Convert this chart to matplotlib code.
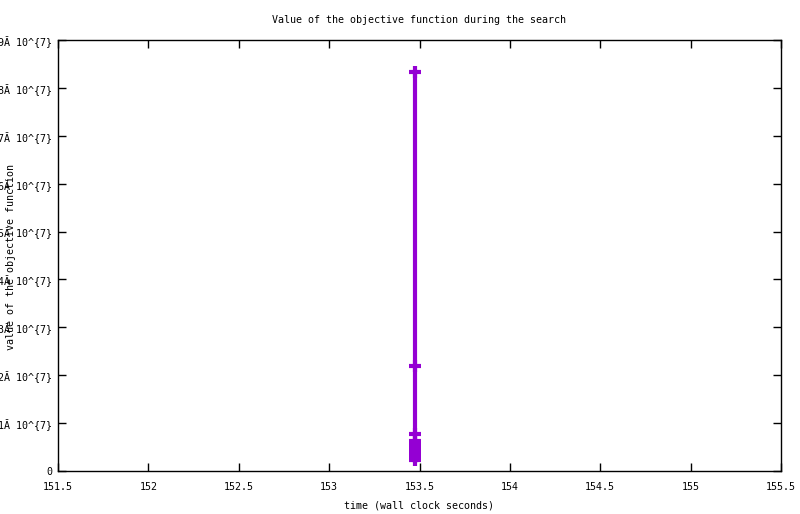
import matplotlib
matplotlib.use("Agg")
import matplotlib.pyplot as plt

# objective value trace (all points at nearly the same wall clock time)
times = [153.475, 153.475, 153.475, 153.475, 153.475, 153.475, 153.475, 153.475, 153.475]
values = [8.33e7, 2.19e7, 7.7e6, 6.3e6, 5.4e6, 4.6e6, 3.8e6, 2.9e6, 2.2e6]

x_ticks = [151.5, 152, 152.5, 153, 153.5, 154, 154.5, 155, 155.5]
x_tick_labels = ["151.5", "152", "152.5", "153", "153.5", "154", "154.5", "155", "155.5"]
y_ticks = [0, 1e7, 2e7, 3e7, 4e7, 5e7, 6e7, 7e7, 8e7, 9e7]
y_tick_labels = ["0"] + [f"{i}\u0102 10^{{7}}" for i in range(1, 10)]

plt.rcParams["font.family"] = ["DejaVu Sans Mono"]
plt.rcParams["font.size"] = 7.2

fig = plt.figure(figsize=(8, 5.14), dpi=100)
ax = fig.add_axes([58 / 800, 1 - 471 / 514, (781 - 58) / 800, (471 - 40) / 514])

ax.plot(times, values, color="#9400d3", linewidth=3, marker="+",
        markersize=8, markeredgewidth=3)

ax.set_xlim(151.5, 155.5)
ax.set_ylim(0, 9e7)
ax.set_xticks(x_ticks)
ax.set_xticklabels(x_tick_labels)
ax.set_yticks(y_ticks)
ax.set_yticklabels(y_tick_labels)
ax.tick_params(direction="in", length=6, width=1, top=True, right=True, color="black")
ax.tick_params(axis="x", pad=8)
ax.tick_params(axis="y", pad=4)
for s in ax.spines.values():
    s.set_linewidth(1)

fig.text(419 / 800, 1 - 20 / 514, "Value of the objective function during the search",
         ha="center", va="center")
fig.text(419 / 800, 1 - 505 / 514, "time (wall clock seconds)", ha="center", va="center")
fig.text(11 / 800, 1 - 257 / 514, "value of the objective function", ha="center",
         va="center", rotation=90)

fig.savefig("out.png", dpi=100)
